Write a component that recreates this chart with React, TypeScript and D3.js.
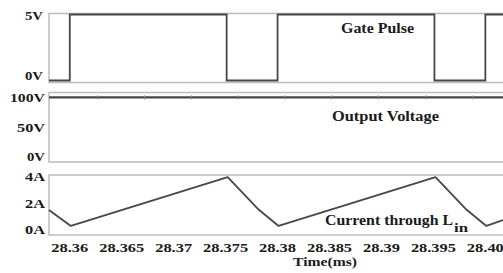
import React from "react";
import * as d3 from "d3";

const W = 503;
const H = 273;

// Gate pulse (step after)
const gateTimes = [28.358, 28.36, 28.3751, 28.38, 28.3951, 28.40, 28.4017];
const gateValues = [0, 5, 0, 5, 0, 5, 5];

// Output voltage
const voutTimes = [28.358, 28.4017];
const voutValues = [101, 101];
const voutMarkerTimes = [28.3627, 28.3672, 28.3717, 28.3762, 28.3807, 28.3852, 28.3897, 28.3943, 28.3988];

// Inductor current
const iTimes = [28.358, 28.3601, 28.3752, 28.3782, 28.3801, 28.3952, 28.3982, 28.4001, 28.4017];
const iValues = [1.58, 0.38, 4.07, 1.6, 0.38, 4.07, 1.6, 0.38, 0.83];

const xTicks = [28.36, 28.365, 28.37, 28.375, 28.38, 28.385, 28.39, 28.395, 28.40];
const xTickLabels = ["28.36", "28.365", "28.37", "28.375", "28.38", "28.385", "28.39", "28.395", "28.40"];

const gateTicks = [0, 5];
const gateTickLabels = ["0V", "5V"];
const voutTicks = [0, 50, 100];
const voutTickLabels = ["0V", "50V", "100V"];
const iTicks = [0, 2, 4];
const iTickLabels = ["0A", "2A", "4A"];

const FONT = "'Liberation Serif', 'Times New Roman', serif";
const TRACE = "#474747";
const BORDER = "#bdbdbd";
const TEXT = "#1a1a1a";

export default function App() {
  const x = d3.scaleLinear().domain([28.358, 28.4017]).range([49, 503]);
  const yG = d3.scaleLinear().domain([0, 5]).range([80.5, 14.5]);
  const yV = d3.scaleLinear().domain([0, 100]).range([157.5, 98]);
  const yI = d3.scaleLinear().domain([0, 4]).range([231, 178]);

  const gateLine = d3
    .line<number>()
    .x((_, i) => x(gateTimes[i]))
    .y((d) => yG(d))
    .curve(d3.curveStepAfter)(gateValues);
  const voutLine = d3
    .line<number>()
    .x((_, i) => x(voutTimes[i]))
    .y((d) => yV(d))(voutValues);
  const iLine = d3
    .line<number>()
    .x((_, i) => x(iTimes[i]))
    .y((d) => yI(d))(iValues);

  const panels = [
    { top: 13.5, bottom: 82.5 },
    { top: 92.5, bottom: 162 },
    { top: 175, bottom: 235 },
  ];

  return (
    <svg width={W} height={H} style={{ position: "absolute", left: 0, top: 0, background: "#fff" }}>
      {panels.map((p, i) => (
        <rect
          key={i}
          x={49}
          y={p.top}
          width={W - 49 + 5}
          height={p.bottom - p.top}
          fill="none"
          stroke={BORDER}
          strokeWidth={1.5}
        />
      ))}

      {/* traces */}
      <path d={gateLine || ""} fill="none" stroke={TRACE} strokeWidth={1.8} />
      <path d={voutLine || ""} fill="none" stroke={TRACE} strokeWidth={2.2} />
      {voutMarkerTimes.map((t, i) => (
        <line key={i} x1={x(t)} x2={x(t)} y1={yV(101) - 2} y2={yV(101) + 2} stroke="#888" strokeWidth={1} />
      ))}
      <path d={iLine || ""} fill="none" stroke={TRACE} strokeWidth={1.8} strokeLinejoin="round" />

      {/* y tick labels */}
      {gateTicks.map((t, i) => (
        <text
          key={"g" + i}
          x={43}
          y={yG(t) + (t === 5 ? 3 : -3)}
          textAnchor="end"
          dominantBaseline="middle"
          fontFamily={FONT}
          fontWeight="bold"
          fontSize={13}
          fill={TEXT}
          textLength={18}
          lengthAdjust="spacingAndGlyphs"
        >
          {gateTickLabels[i]}
        </text>
      ))}
      {voutTicks.map((t, i) => (
        <text
          key={"v" + i}
          x={45}
          y={yV(t) + 1}
          textAnchor="end"
          dominantBaseline="middle"
          fontFamily={FONT}
          fontWeight="bold"
          fontSize={13}
          fill={TEXT}
          textLength={[18, 28, 35][i]}
          lengthAdjust="spacingAndGlyphs"
        >
          {voutTickLabels[i]}
        </text>
      ))}
      {iTicks.map((t, i) => (
        <text
          key={"i" + i}
          x={45}
          y={yI(t) + 0.5}
          textAnchor="end"
          dominantBaseline="middle"
          fontFamily={FONT}
          fontWeight="bold"
          fontSize={13}
          fill={TEXT}
          textLength={20}
          lengthAdjust="spacingAndGlyphs"
        >
          {iTickLabels[i]}
        </text>
      ))}

      {/* x tick labels */}
      {xTicks.map((t, i) => (
        <text
          key={"x" + i}
          x={x(t)}
          y={251.5}
          textAnchor="middle"
          fontFamily={FONT}
          fontWeight="bold"
          fontSize={13}
          fill={TEXT}
          textLength={xTickLabels[i].length === 5 ? 37 : 45}
          lengthAdjust="spacingAndGlyphs"
        >
          {xTickLabels[i]}
        </text>
      ))}

      {/* titles */}
      <text x={341} y={33} fontFamily={FONT} fontWeight="bold" fontSize={14} fill={TEXT} textLength={73} lengthAdjust="spacingAndGlyphs">
        Gate Pulse
      </text>
      <text x={332} y={121} fontFamily={FONT} fontWeight="bold" fontSize={14} fill={TEXT} textLength={107} lengthAdjust="spacingAndGlyphs">
        Output Voltage
      </text>
      <text x={325} y={225} fontFamily={FONT} fontWeight="bold" fontSize={14} fill={TEXT} textLength={128} lengthAdjust="spacingAndGlyphs">
        Current through L
      </text>
      <text x={454} y={232} fontFamily={FONT} fontWeight="bold" fontSize={13} fill={TEXT} textLength={14} lengthAdjust="spacingAndGlyphs">
        in
      </text>
      <text x={293} y={266} fontFamily={FONT} fontWeight="bold" fontSize={12.5} fill={TEXT} textLength={64} lengthAdjust="spacingAndGlyphs">
        Time(ms)
      </text>
    </svg>
  );
}
